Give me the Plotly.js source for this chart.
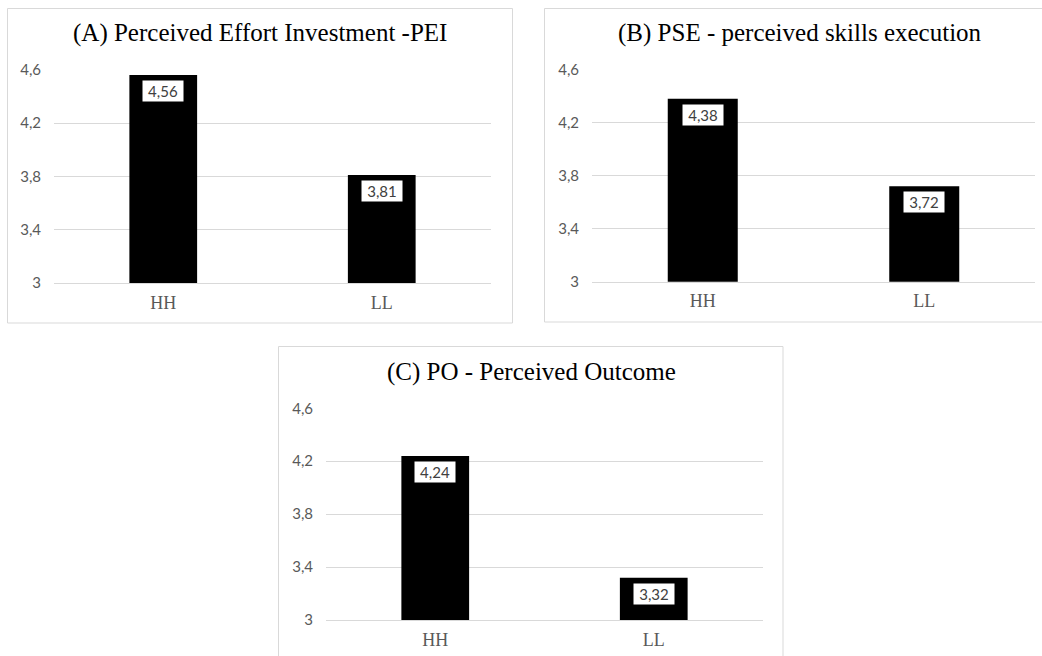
<!DOCTYPE html>
<html>
<head>
<meta charset="utf-8">
<script src="https://cdn.plot.ly/plotly-3.0.1.min.js"></script>
<style>
  html, body { margin: 0; padding: 0; background: #fff; }
  #chart { width: 1042px; height: 656px; }
</style>
</head>
<body>
<div id="chart"></div>
<script>
// Group means per condition
const categories = ["HH", "LL"];
const peiValues = [4.56, 3.81];
const pseValues = [4.38, 3.72];
const poValues = [4.24, 3.32];

const panelTitles = [
  "(A) Perceived Effort Investment -PEI",
  "(B) PSE - perceived skills execution",
  "(C) PO - Perceived Outcome"
];
const yTickVals = [3, 3.4, 3.8, 4.2, 4.6];

const W = 1042, H = 656;
const px = v => v / W;           // pixel x -> paper x
const py = v => 1 - v / H;       // pixel y -> paper y

// Panel geometry in pixels: plot area and outer frame
const panels = [
  { values: peiValues, plot: [54, 491, 69.7, 283], frame: [7.5, 512.5, 8.5, 323], title: [259.5, 33], bw: 0.31 },
  { values: pseValues, plot: [592, 1035, 69.7, 281.7], frame: [544.5, 1050, 8.5, 322], title: [800, 33], bw: 0.316 },
  { values: poValues, plot: [326, 763, 408.3, 620], frame: [278.5, 783, 346.5, 670], title: [531, 372], bw: 0.31 }
];

const fmt = v => v.toFixed(2).replace(".", ",");

const data = [];
const layout = {
  width: W, height: H,
  margin: { l: 0, r: 0, t: 0, b: 0 },
  paper_bgcolor: "#ffffff",
  plot_bgcolor: "#ffffff",
  showlegend: false,
  separators: ", ",
  annotations: [],
  shapes: []
};

panels.forEach((p, i) => {
  const n = i === 0 ? "" : String(i + 1);
  const xa = "x" + n, ya = "y" + n;

  data.push({
    type: "bar",
    x: categories,
    y: p.values,
    width: p.bw,
    xaxis: xa, yaxis: ya,
    marker: { color: "#000000", line: { width: 0 } },
    hoverinfo: "skip",
    cliponaxis: true
  });

  layout["xaxis" + n] = {
    domain: [px(p.plot[0]), px(p.plot[1])],
    anchor: ya,
    type: "category",
    range: [-0.5, 1.5],
    showgrid: false,
    zeroline: false,
    showline: true,
    linecolor: "#d9d9d9",
    linewidth: 1,
    layer: "below traces",
    ticks: "",
    ticklabelstandoff: 3,
    tickfont: { family: "Liberation Serif", size: 18, color: "#595959" },
    fixedrange: true
  };
  layout["yaxis" + n] = {
    domain: [py(p.plot[3]), py(p.plot[2])],
    anchor: xa,
    range: [3, 4.6],
    tickvals: yTickVals,
    showgrid: true,
    gridcolor: "#d9d9d9",
    gridwidth: 1,
    zeroline: false,
    showline: false,
    ticks: "",
    ticklabelstandoff: 12,
    tickfont: { family: "Lato", size: 15, color: "#595959" },
    layer: "below traces",
    fixedrange: true
  };

  // Value labels inside the top of each bar
  categories.forEach((c, k) => {
    layout.annotations.push({
      xref: xa, yref: ya,
      x: c, y: p.values[k],
      text: fmt(p.values[k]),
      showarrow: false,
      yanchor: "top",
      yshift: -5,
      bgcolor: "#ffffff",
      borderpad: 1,
      width: 38,
      font: { family: "Lato", size: 15, color: "#404040" }
    });
  });

  // Panel title
  layout.annotations.push({
    xref: "paper", yref: "paper",
    x: px(p.title[0]), y: py(p.title[1]),
    xanchor: "center", yanchor: "middle",
    text: panelTitles[i],
    showarrow: false,
    font: { family: "Liberation Serif", size: 25, color: "#000000" }
  });

  // Panel frame
  layout.shapes.push({
    type: "rect", xref: "paper", yref: "paper",
    x0: px(p.frame[0]), x1: px(p.frame[1]),
    y0: py(p.frame[3]), y1: py(p.frame[2]),
    line: { color: "#d9d9d9", width: 1 },
    fillcolor: "rgba(0,0,0,0)",
    layer: "below"
  });
});

Plotly.newPlot("chart", data, layout, { displayModeBar: false, staticPlot: true });
</script>
</body>
</html>
